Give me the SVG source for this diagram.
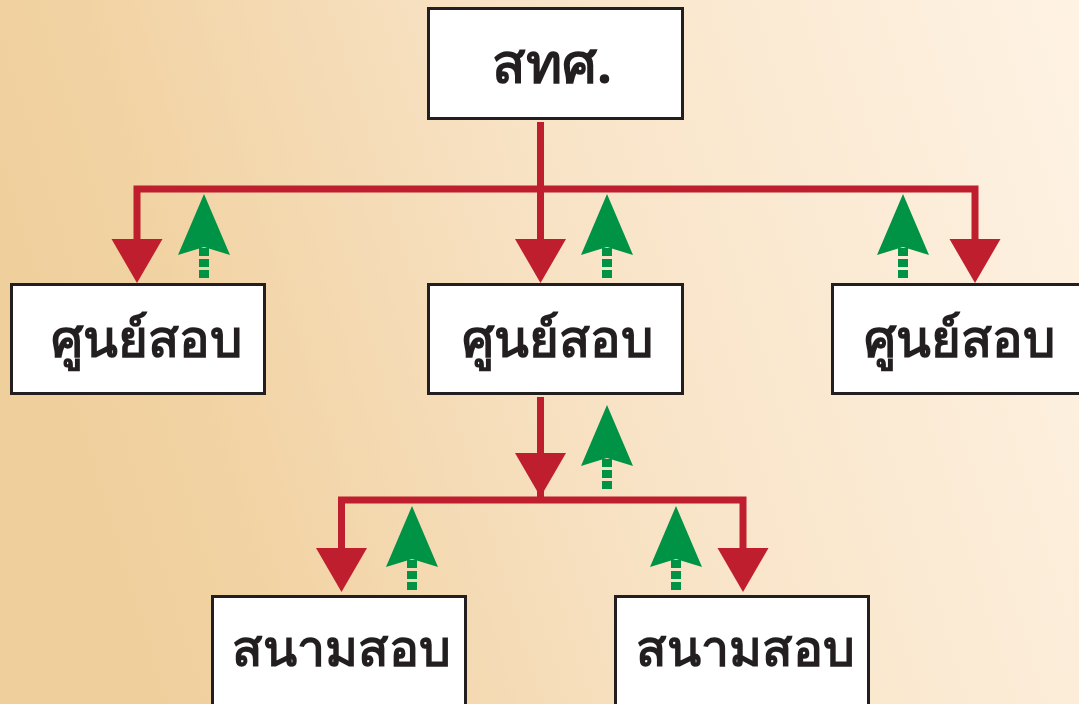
<svg xmlns="http://www.w3.org/2000/svg" width="1079" height="704" viewBox="0 0 1079 704">
<defs>
<linearGradient id="bg" x1="0" y1="0.3" x2="1" y2="0.1">
<stop offset="0" stop-color="#EFCF9C"/>
<stop offset="0.12" stop-color="#F1D2A2"/>
<stop offset="0.5" stop-color="#F8E3C6"/>
<stop offset="1" stop-color="#FEF2E3"/>
</linearGradient>
<g id="up">
<rect x="-5" y="54" width="10" height="8"/>
<rect x="-5" y="65" width="10" height="8"/>
<rect x="-5" y="76" width="10" height="8"/>
<path d="M0 0 L26 61 L0 53 L-26 61 Z"/>
</g>
<path id="down" d="M-25.5 -44 L25.5 -44 L0 0 Z"/>
</defs>
<style>
.box{fill:#FFFFFF;stroke:#231F20;stroke-width:3}
.lbl{font-family:"Noto Sans","DejaVu Sans",sans-serif;font-weight:bold;font-size:51px;fill:#231F20;text-anchor:middle}
.red{fill:none;stroke:#BE1E2D;stroke-width:7}
.rh{fill:#BE1E2D}
.gr{fill:#009245}
</style>
<rect x="0" y="0" width="1079" height="704" fill="url(#bg)"/>
<g id="connectors">
<path class="red" d="M540.5 122 V189 M137 240 V189 H975 V240 M540.5 189 V240"/>
<path class="red" d="M540.5 397 V455 M341.5 550 V500 H743 V550 M540.5 455 V500"/>
<use href="#down" class="rh" x="137" y="283"/>
<use href="#down" class="rh" x="540.5" y="283"/>
<use href="#down" class="rh" x="975" y="283"/>
<use href="#down" class="rh" x="540.5" y="497"/>
<use href="#down" class="rh" x="341.5" y="592"/>
<use href="#down" class="rh" x="743" y="592"/>
<use href="#up" class="gr" x="204" y="194"/>
<use href="#up" class="gr" x="607" y="194"/>
<use href="#up" class="gr" x="903" y="194"/>
<use href="#up" class="gr" x="607" y="405"/>
<use href="#up" class="gr" x="412" y="506"/>
<use href="#up" class="gr" x="676" y="506"/>
</g>
<g id="n-top">
<rect class="box" x="428.5" y="8.5" width="254" height="110"/>
<text class="lbl" x="552" y="83" style="font-size:55px">สทศ.</text>
</g>
<g id="n-left">
<rect class="box" x="11.5" y="284.5" width="253" height="109"/>
<text class="lbl" x="146" y="357">ศูนย์สอบ</text>
</g>
<g id="n-mid">
<rect class="box" x="428.5" y="284.5" width="254" height="109"/>
<text class="lbl" x="557" y="357">ศูนย์สอบ</text>
</g>
<g id="n-right">
<rect class="box" x="832.5" y="284.5" width="252" height="109"/>
<text class="lbl" x="959" y="357">ศูนย์สอบ</text>
</g>
<g id="n-bl">
<rect class="box" x="212.5" y="596.5" width="253" height="115"/>
<text class="lbl" x="341" y="666" style="font-size:50px">สนามสอบ</text>
</g>
<g id="n-br">
<rect class="box" x="615.5" y="596.5" width="253" height="115"/>
<text class="lbl" x="745" y="666" style="font-size:50px">สนามสอบ</text>
</g>
</svg>
